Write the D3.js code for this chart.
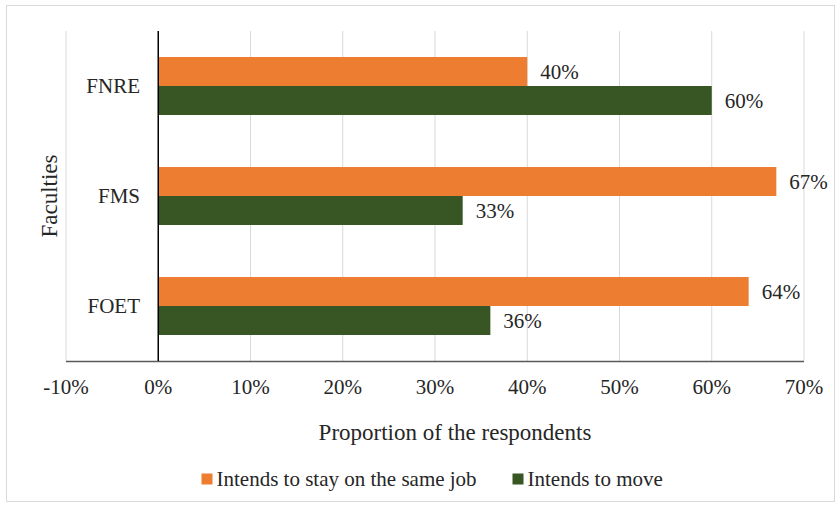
<!DOCTYPE html>
<html><head><meta charset="utf-8">
<script src="https://cdn.jsdelivr.net/npm/d3@7"></script>
<style>body{margin:0;background:#fff}</style>
</head><body>
<svg id="c" width="840" height="507" font-family="'Liberation Serif', 'Times New Roman', Times, 'DejaVu Serif', serif"></svg>
<script>
const categories = ["FNRE", "FMS", "FOET"];
const seriesNames = ["Intends to stay on the same job", "Intends to move"];
const stayValues = [0.40, 0.67, 0.64];
const moveValues = [0.60, 0.33, 0.36];
const xTicks = [-0.1, 0, 0.1, 0.2, 0.3, 0.4, 0.5, 0.6, 0.7];
const colors = ["#ED7D31", "#375623"];

(function () {
const svg = d3.select("#c");
const txt = "#262626";
svg.append("rect").attr("x", 6.5).attr("y", 5.5).attr("width", 828).attr("height", 496)
  .attr("fill", "#fff").attr("stroke", "#d9d9d9");

const pLeft = 66, pRight = 804, pTop = 31, pBottom = 361;
const x = d3.scaleLinear().domain([-0.1, 0.7]).range([pLeft, pRight]);
const y = d3.scaleBand().domain(categories).range([pTop, pBottom]).paddingInner(0.473).paddingOuter(0.2365);
const sub = d3.scaleBand().domain([0, 1]).range([0, y.bandwidth()]);

svg.append("g").selectAll("line").data(xTicks.filter(t => t !== 0)).join("line")
  .attr("x1", d => x(d)).attr("x2", d => x(d)).attr("y1", pTop).attr("y2", pBottom)
  .attr("stroke", "#d9d9d9").attr("stroke-width", 1);

const series = [stayValues, moveValues];
series.forEach((vals, si) => {
  svg.append("g").selectAll("rect").data(categories).join("rect")
    .attr("x", x(0)).attr("y", (d) => y(d) + sub(si))
    .attr("width", (d, i) => x(vals[i]) - x(0)).attr("height", sub.bandwidth())
    .attr("fill", colors[si]);
  svg.append("g").selectAll("text").data(categories).join("text")
    .attr("x", (d, i) => x(vals[i]) + 13).attr("y", (d) => y(d) + sub(si) + sub.bandwidth() / 2)
    .attr("dy", "0.35em").attr("font-size", 21).attr("fill", txt)
    .text((d, i) => Math.round(vals[i] * 100) + "%");
});

svg.append("line").attr("x1", pLeft).attr("x2", pRight).attr("y1", pBottom + 0.5).attr("y2", pBottom + 0.5)
  .attr("stroke", "#595959").attr("stroke-width", 1.5);
svg.append("line").attr("x1", x(0)).attr("x2", x(0)).attr("y1", pTop).attr("y2", pBottom)
  .attr("stroke", "#000").attr("stroke-width", 1.5);

svg.append("g").selectAll("text").data(xTicks).join("text")
  .attr("x", d => x(d)).attr("y", 394).attr("text-anchor", "middle").attr("font-size", 21).attr("fill", txt)
  .text(d => Math.round(d * 100) + "%");

svg.append("g").selectAll("text").data(categories).join("text")
  .attr("x", 140).attr("y", d => y(d) + y.bandwidth() / 2).attr("dy", "0.35em").attr("fill", txt)
  .attr("text-anchor", "end").attr("font-size", 21).text(d => d);

svg.append("text").attr("x", 455).attr("y", 440).attr("text-anchor", "middle").attr("font-size", 23).attr("fill", txt)
  .text("Proportion of the respondents");
svg.append("text").attr("transform", "translate(57,196) rotate(-90)").attr("text-anchor", "middle")
  .attr("font-size", 23).attr("fill", txt).text("Faculties");

const legX = [201.5, 512.5];
seriesNames.forEach((n, i) => {
  svg.append("rect").attr("x", legX[i]).attr("y", 473.5).attr("width", 11).attr("height", 11).attr("fill", colors[i]);
  svg.append("text").attr("x", legX[i] + 15).attr("y", 486).attr("font-size", 21).attr("fill", txt).text(n);
});
})();
</script>
</body></html>
